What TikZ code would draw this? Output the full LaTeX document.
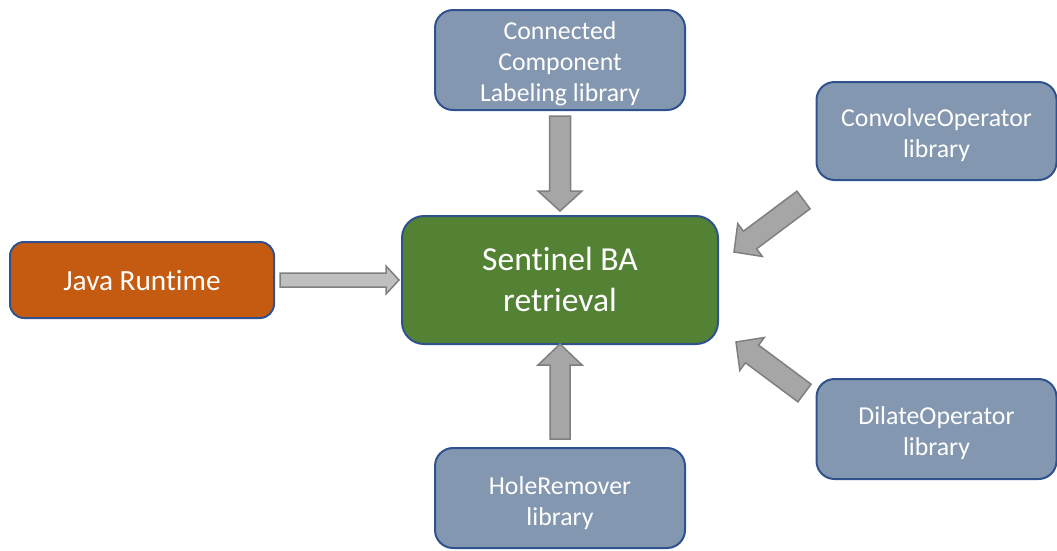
\documentclass[tikz,border=0pt]{standalone}
\usepackage{fontspec}
\setmainfont[Ligatures=NoCommon]{Carlito}
\usetikzlibrary{calc}

\definecolor{libfill}{HTML}{8497B0}
\definecolor{edgeblue}{HTML}{2F528F}
\definecolor{javafill}{HTML}{C55A11}
\definecolor{corefill}{HTML}{548235}
\definecolor{arrowfill}{HTML}{A6A6A6}
\definecolor{arrowlight}{HTML}{BFBFBF}
\definecolor{arrowedge}{HTML}{7F7F7F}

% block arrow: #1 style, #2 tail, #3 tip, #4 shaft half width, #5 head half width, #6 head length
\newcommand\blockarrow[6]{%
  \coordinate (ba-h) at ($(#3)!#6!(#2)$);
  \draw[#1] ($(#2)!#4!90:(#3)$) -- ($(ba-h)!#4!90:(#3)$) -- ($(ba-h)!#5!90:(#3)$)
    -- (#3) -- ($(ba-h)!#5!-90:(#3)$) -- ($(ba-h)!#4!-90:(#3)$)
    -- ($(#2)!#4!-90:(#3)$) -- cycle;
}

\tikzset{
  box/.style={draw=edgeblue, line width=2pt, inner sep=0pt},
  libbox/.style={box, fill=libfill, rounded corners=18pt},
  corebox/.style={box, fill=corefill, rounded corners=22pt},
  javabox/.style={box, fill=javafill, rounded corners=14pt},
  txt/.style={text=white, align=center, inner sep=0pt},
  libtext/.style={txt, font=\fontsize{25.8}{31}\selectfont},
  coretext/.style={txt, font=\fontsize{33.6}{41}\selectfont},
  javatext/.style={txt, font=\fontsize{29.3}{34}\selectfont},
  blockarr/.style={fill=arrowfill, draw=arrowedge, line width=1.5pt, line join=miter},
  lightarr/.style={blockarr, fill=arrowlight},
}

\begin{document}
\begin{tikzpicture}[x=1pt, y=-1pt]
  \useasboundingbox (0,0) rectangle (1057,550);

  % boxes: central component and its dependencies
  \node[corebox, minimum width=316pt, minimum height=128pt] (core) at (560,280) {};
  \node[javabox, minimum width=264pt, minimum height=76pt] (java) at (142,280) {};
  \node[libbox, minimum width=250pt, minimum height=100pt] (ccl) at (560,60) {};
  \node[libbox, minimum width=240pt, minimum height=98pt] (conv) at (936.5,131) {};
  \node[libbox, minimum width=240pt, minimum height=100pt] (dil) at (936.5,429) {};
  \node[libbox, minimum width=250pt, minimum height=100pt] (hole) at (560,498) {};

  % box texts
  \node[coretext] (core-txt) at ($(core.center)+(0,-1)$) {Sentinel BA\\retrieval};
  \node[javatext] (java-txt) at ($(java.center)+(0,1)$) {Java Runtime};
  \node[libtext] (ccl-txt) at ($(ccl.center)+(0,4)$) {Connected\\Component\\Labeling library};
  \node[libtext] (conv-txt) at ($(conv.center)+(0,4)$) {ConvolveOperator\\library};
  \node[libtext] (dil-txt) at ($(dil.center)+(0,4.5)$) {DilateOperator\\library};
  \node[libtext] (hole-txt) at ($(hole.center)+(0,5)$) {HoleRemover\\library};

  % arrow end points
  \coordinate (java-t) at ($(java.east)+(5,0)$);
  \coordinate (java-h) at ($(core.west)+(-2,0)$);
  \coordinate (ccl-t) at ($(ccl.south)+(0,5)$);
  \coordinate (ccl-h) at ($(core.north)+(0,-4)$);
  \coordinate (hole-t) at ($(hole.north)+(0,-8)$);
  \coordinate (hole-h) at ($(core.south)+(0,-1)$);
  \coordinate (conv-t) at ($(conv.south west)+(-12,19)$);
  \coordinate (conv-h) at ($(core.east)+(15,-28)$);
  \coordinate (dil-t) at ($(dil.north west)+(-11,15)$);
  \coordinate (dil-h) at ($(core.east)+(17,62)$);

  % block arrows into the central component
  \blockarrow{lightarr}{java-t}{java-h}{7pt}{14pt}{13pt}
  \blockarrow{blockarr}{ccl-t}{ccl-h}{10.5pt}{22pt}{20pt}
  \blockarrow{blockarr}{hole-t}{hole-h}{10pt}{22pt}{21pt}
  \blockarrow{blockarr}{conv-t}{conv-h}{11pt}{20.5pt}{20pt}
  \blockarrow{blockarr}{dil-t}{dil-h}{11pt}{20.5pt}{20pt}
\end{tikzpicture}
\end{document}
